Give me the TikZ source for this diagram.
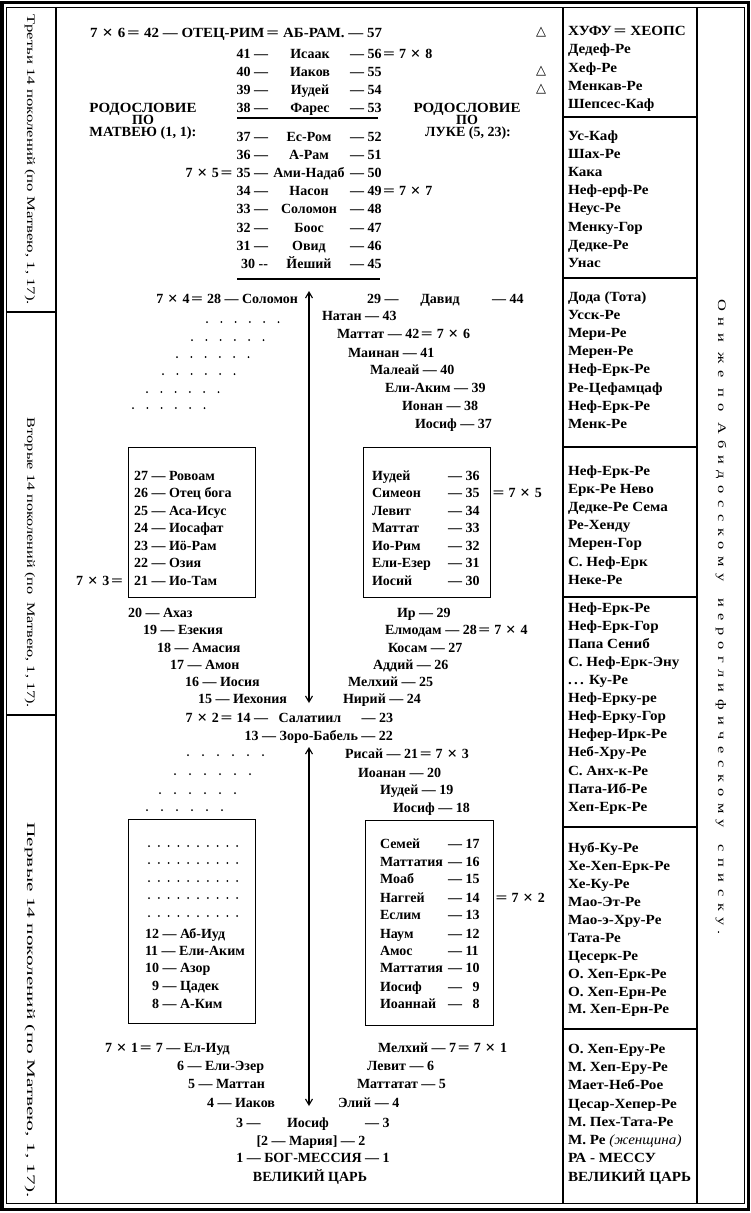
\documentclass[tikz,border=0pt]{standalone}
\usepackage{fontspec}
\setmainfont{Liberation Serif}
\newfontfamily\symf{DejaVu Sans}
\newfontfamily\rcolf[FakeStretch=1.08]{Liberation Serif}
\usepackage{graphicx}
\usetikzlibrary{arrows.meta}
\newcommand\TM{\kern0.33em\raisebox{-0.08em}{\scalebox{1.25}{×}}\kern0.33em}
\newcommand\EQ{\kern0.12em\scalebox{1.5}[1]{=}\kern0.28em}
\newcommand\mfont{\fontsize{14}{16}\selectfont\bfseries}
\newcommand\rfont{\rcolf\fontsize{14}{16}\selectfont\bfseries}
\newcommand\vfont{\fontsize{11.5}{14}\selectfont}
\newcommand\hfit[2]{\resizebox{#1}{\height}{#2}}
\tikzset{
  t/.style={inner sep=0pt, outer sep=0pt, font=\mfont, anchor=base west},
  te/.style={t, anchor=base east},
  tc/.style={t, anchor=base},
  rt/.style={inner sep=0pt, outer sep=0pt, font=\rfont, anchor=base west},
  vt/.style={inner sep=0pt, font=\vfont, rotate=-90},
  tri/.style={inner sep=0pt, font=\symf\fontsize{13}{13}\selectfont},
  boxst/.style={draw, line width=1.4pt, inner sep=0pt, anchor=north west},
  frame/.style={line width=1.2pt},
  divr/.style={line width=1.8pt},
  darrow/.style={line width=1.1pt, {Straight Barb[length=6pt,width=7pt]}-{Straight Barb[length=6pt,width=7pt]}},
  dot/.style={fill=black}
}
\begin{document}
\begin{tikzpicture}[x=1pt,y=-1pt]
\fill[white] (0,0) rectangle (751,1213);
\useasboundingbox (0,0) rectangle (751,1213);
% ---- frame ----
\draw[line width=3.5pt] (2.2,2.5) rectangle (748.5,1209.5);
\draw[line width=1pt] (6.5,7.5) rectangle (744,1203.5);
\draw[frame] (56,7.5) -- (56,1203.5);
\draw[frame] (563,7.5) -- (563,1203.5);
\draw[frame] (697,7.5) -- (697,1203.5);
\draw[frame] (6.5,312) -- (56,312);
\draw[frame] (6.5,715) -- (56,715);
\foreach \yy in {117,278,447,597,827,1029} \draw[divr] (563,\yy) -- (697,\yy);
% ---- left column texts ----
\node[vt] (lc3) at (30,160) {\hfit{290pt}{Третьи 14 поколений (по Матвею, 1, 17).}};
\node[vt] (lc2) at (30,563) {\hfit{290pt}{Вторые 14 поколений (по~~Матвею, 1, 17).}};
\node[vt] (lc1) at (30,1010) {\hfit{375pt}{Первые 14 поколений (по Матвею, 1, 17).}};
% ---- far right text ----
\node[vt] (abid) at (721,617) {\hfit{635pt}{\addfontfeature{LetterSpace=40}Они же по Абидосскому\quad иероглифическому\quad списку.}};
% ---- top section ----
\node[t] (n57) at (90,37) {\hfit{292pt}{7\TM 6\EQ 42 — ОТЕЦ-РИМ\EQ АБ-РАМ. — 57}};
\node[tri] (tr1) at (541,32) {△};
\node[tri] (tr2) at (541,71) {△};
\node[tri] (tr3) at (541,89) {△};
\node[te] (a41) at (268,58) {41 —};  \node[tc] (b41) at (310,58) {Исаак};  \node[t] (c41) at (350,58) {— 56\EQ 7\TM 8};
\node[te] (a40) at (268,76) {40 —};  \node[tc] (b40) at (310,76) {Иаков};  \node[t] (c40) at (350,76) {— 55};
\node[te] (a39) at (268,94) {39 —};  \node[tc] (b39) at (310,94) {Иудей};  \node[t] (c39) at (350,94) {— 54};
\node[te] (a38) at (268,112) {38 —}; \node[tc] (b38) at (310,112) {Фарес}; \node[t] (c38) at (350,112) {— 53};
\node[tc] (rodM1) at (143,112) {\hfit{107pt}{РОДОСЛОВИЕ}};
\node[tc] (rodM2) at (143,124) {ПО};
\node[tc] (rodM3) at (143,136) {\hfit{107pt}{МАТВЕЮ (1, 1):}};
\node[tc] (rodL1) at (467,112) {\hfit{107pt}{РОДОСЛОВИЕ}};
\node[tc] (rodL2) at (467,124) {ПО};
\node[tc] (rodL3) at (468,136) {ЛУКЕ (5, 23):};
\coordinate (ru1a) at (237,118); \coordinate (ru1b) at (378,118);
\draw[line width=1.2pt] (ru1a) -- (ru1b);
\node[te] (a37) at (268,141) {37 —}; \node[tc] (b37) at (309,141) {Ес-Ром}; \node[t] (c37) at (350,141) {— 52};
\node[te] (a36) at (268,159) {36 —}; \node[tc] (b36) at (309,159) {А-Рам}; \node[t] (c36) at (350,159) {— 51};
\node[te] (a35) at (268,177) {7\TM 5\EQ 35 —}; \node[tc] (b35) at (309,177) {Ами-Надаб}; \node[t] (c35) at (350,177) {— 50};
\node[te] (a34) at (268,195) {34 —}; \node[tc] (b34) at (309,195) {Насон}; \node[t] (c34) at (350,195) {— 49\EQ 7\TM 7};
\node[te] (a33) at (268,213) {33 —}; \node[tc] (b33) at (309,213) {Соломон}; \node[t] (c33) at (350,213) {— 48};
\node[te] (a32) at (268,232) {32 —}; \node[tc] (b32) at (309,232) {Боос}; \node[t] (c32) at (350,232) {— 47};
\node[te] (a31) at (268,250) {31 —}; \node[tc] (b31) at (309,250) {Овид}; \node[t] (c31) at (350,250) {— 46};
\node[te] (a30) at (268,268) {30 -{}-}; \node[tc] (b30) at (309,268) {Йеший}; \node[t] (c30) at (350,268) {— 45};
\coordinate (ru2a) at (237,279); \coordinate (ru2b) at (380,279);
\draw[line width=2pt] (ru2a) -- (ru2b);
% ---- second section ----
\coordinate (ar1t) at (309,291); \coordinate (ar1b) at (309,703);
\draw[darrow] (ar1t) -- (ar1b);
\node[te] (s28) at (298,303) {7\TM 4\EQ 28 — Соломон};
\node[t] (d29) at (367,303) {29 —}; \node[tc] (d29n) at (440,303) {Давид}; \node[t] (d44) at (492,303) {— 44};
\node[t] (l43) at (322,320) {Натан — 43};
\node[t] (l42) at (337,338) {Маттат — 42\EQ 7\TM 6};
\node[t] (l41) at (348,357) {Маинан — 41};
\node[t] (l40) at (370,374) {Малеай — 40};
\node[t] (l39) at (385,392) {Ели-Аким — 39};
\node[t] (l38) at (402,410) {Ионан — 38};
\node[t] (l37) at (415,428) {Иосиф — 37};
\foreach \yy/\xx in {322/207,340/192,357/177,374/163,392/147,408/133}
  \foreach \k in {0,...,5} \fill[dot] (\xx+\k*14.3,\yy) circle (1pt);
% boxes middle
\node[boxst, minimum width=127pt, minimum height=150pt] (boxA) at (128,447) {};
\node[boxst, minimum width=127pt, minimum height=150pt] (boxB) at (363,447) {};
\node[t] (m27) at (134,480) {27 — Ровоам};
\node[t] (m26) at (134,497) {26 — Отец бога};
\node[t] (m25) at (134,515) {25 — Аса-Исус};
\node[t] (m24) at (134,532) {24 — Иосафат};
\node[t] (m23) at (134,550) {23 — Иö-Рам};
\node[t] (m22) at (134,567) {22 — Озия};
\node[t] (m21) at (134,585) {21 — Ио-Там};
\node[te] (m21x) at (127,585) {7\TM 3\EQ};
\node[t] (l36n) at (372,480) {Иудей};    \node[t] (l36) at (448,480) {— 36};
\node[t] (l35n) at (372,497) {Симеон};   \node[t] (l35) at (448,497) {— 35};
\node[t] (l34n) at (372,515) {Левит};    \node[t] (l34) at (448,515) {— 34};
\node[t] (l33n) at (372,532) {Маттат};   \node[t] (l33) at (448,532) {— 33};
\node[t] (l32n) at (372,550) {Ио-Рим};   \node[t] (l32) at (448,550) {— 32};
\node[t] (l31n) at (372,567) {Ели-Езер}; \node[t] (l31) at (448,567) {— 31};
\node[t] (l30n) at (372,585) {Иосий};    \node[t] (l30) at (448,585) {— 30};
\node[t] (l35x) at (491,497) {\EQ 7\TM 5};
% staircases below boxes
\node[t] (m20) at (128,617) {20 — Ахаз};
\node[t] (m19) at (143,634) {19 — Езекия};
\node[t] (m18) at (157,652) {18 — Амасия};
\node[t] (m17) at (170,669) {17 — Амон};
\node[t] (m16) at (185,686) {16 — Иосия};
\node[t] (m15) at (198,703) {15 — Иехония};
\node[t] (l29) at (397,617) {Ир — 29};
\node[t] (l28) at (385,634) {Елмодам — 28\EQ 7\TM 4};
\node[t] (l27) at (388,652) {Косам — 27};
\node[t] (l26) at (373,669) {Аддий — 26};
\node[t] (l25) at (348,686) {Мелхий — 25};
\node[t] (l24) at (343,703) {Нирий — 24};
\node[te] (m14) at (268,722) {7\TM 2\EQ 14 —}; \node[tc] (m14n) at (310,722) {Салатиил}; \node[te] (l23) at (393,722) {— 23};
\node[te] (m13) at (393,740) {13 — Зоро-Бабель — 22};
% ---- third section ----
\coordinate (ar2t) at (309,747); \coordinate (ar2b) at (309,1106);
\draw[darrow] (ar2t) -- (ar2b);
\node[t] (l21) at (345,758) {Рисай — 21\EQ 7\TM 3};
\node[t] (l20) at (358,777) {Иоанан — 20};
\node[t] (l19) at (380,794) {Иудей — 19};
\node[t] (l18) at (393,812) {Иосиф — 18};
\foreach \yy/\xx in {755/188,774/175,793/160,810/147}
  \foreach \k in {0,...,5} \fill[dot] (\xx+\k*15,\yy) circle (1pt);
\node[boxst, minimum width=127pt, minimum height=204pt] (boxC) at (128,819) {};
\node[boxst, minimum width=128pt, minimum height=205pt] (boxD) at (365,820) {};
\foreach \yy in {846,863,881,898,916}
  \foreach \k in {0,...,9} \fill[dot] (149+\k*9.8,\yy) circle (1pt);
\node[t] (m12) at (145,938) {12 — Аб-Иуд};
\node[t] (m11) at (145,955) {11 — Ели-Аким};
\node[t] (m10) at (145,972) {10 — Азор};
\node[t] (m9) at (152,990) {9 — Цадек};
\node[t] (m8) at (152,1008) {8 — А-Ким};
\node[t] (l17n) at (380,848) {Семей};     \node[t] (l17) at (448,848) {— 17};
\node[t] (l16n) at (380,866) {Маттатия};  \node[t] (l16) at (448,866) {— 16};
\node[t] (l15n) at (380,883) {Моаб};      \node[t] (l15) at (448,883) {— 15};
\node[t] (l14n) at (380,902) {Наггей};    \node[t] (l14) at (448,902) {— 14};
\node[t] (l13n) at (380,919) {Еслим};     \node[t] (l13) at (448,919) {— 13};
\node[t] (l12n) at (380,938) {Наум};      \node[t] (l12) at (448,938) {— 12};
\node[t] (l11n) at (380,955) {Амос};      \node[t] (l11) at (448,955) {— 11};
\node[t] (l10n) at (380,972) {Маттатия};  \node[t] (l10) at (448,972) {— 10};
\node[t] (l9n) at (380,991) {Иосиф};      \node[t] (l9) at (448,991) {— \hphantom{0}9};
\node[t] (l8n) at (380,1008) {Иоаннай};   \node[t] (l8) at (448,1008) {— \hphantom{0}8};
\node[t] (l14x) at (494,902) {\EQ 7\TM 2};
\node[t] (m7) at (105,1052) {7\TM 1\EQ 7 — Ел-Иуд};
\node[t] (m6) at (177,1070) {6 — Ели-Эзер};
\node[t] (m5) at (188,1088) {5 — Маттан};
\node[t] (m4) at (207,1107) {4 — Иаков};
\node[t] (l7) at (378,1052) {Мелхий — 7\EQ 7\TM 1};
\node[t] (l6) at (367,1070) {Левит — 6};
\node[t] (l5) at (357,1088) {Маттатат — 5};
\node[t] (l4) at (338,1107) {Элий — 4};
\node[t] (m3) at (236,1127) {3 —}; \node[tc] (m3n) at (308,1127) {Иосиф}; \node[t] (l3) at (365,1127) {— 3};
\node[tc] (m2) at (311,1145) {[2 — Мария] — 2};
\node[tc] (m1) at (313,1162) {1 — БОГ-МЕССИЯ — 1};
\node[tc] (m0) at (310,1181) {ВЕЛИКИЙ ЦАРЬ};
% ---- right column ----
\foreach \yy/\txt [count=\i] in {
 30/{ХУФУ\EQ ХЕОПС}, 48/Дедеф-Ре, 67/Хеф-Ре, 85/Менкав-Ре, 103/Шепсес-Каф,
 135/Ус-Каф, 153/Шах-Ре, 171/Кака, 189/Неф-ерф-Ре, 207/Неус-Ре, 226/Менку-Гор, 244/Дедке-Ре, 262/Унас,
 296/{Дода (Тота)}, 314/Усск-Ре, 332/Мери-Ре, 350/Мерен-Ре, 368/Неф-Ерк-Ре, 387/Ре-Цефамцаф, 405/Неф-Ерк-Ре, 423/Менк-Ре,
 470/Неф-Ерк-Ре, 488/{Ерк-Ре Нево}, 506/{Дедке-Ре Сема}, 524/Ре-Хенду, 542/Мерен-Гор, 561/{С. Неф-Ерк}, 579/Неке-Ре,
 607/Неф-Ерк-Ре, 625/Неф-Ерк-Гор, 643/{Папа Сениб}, 661/{С. Неф-Ерк-Эну}, 679/{.\,.\,. Ку-Ре}, 697/Неф-Ерку-ре, 715/Неф-Ерку-Гор, 733/Нефер-Ирк-Ре, 751/Неб-Хру-Ре, 770/{С. Анх-к-Ре}, 788/Пата-Иб-Ре, 806/Хеп-Ерк-Ре,
 847/Нуб-Ку-Ре, 865/Хе-Хеп-Ерк-Ре, 883/Хе-Ку-Ре, 901/Мао-Эт-Ре, 919/Мао-э-Хру-Ре, 937/Тата-Ре, 955/Цесерк-Ре, 973/{О. Хеп-Ерк-Ре}, 991/{О. Хеп-Ерн-Ре}, 1008/{М. Хеп-Ерн-Ре},
 1048/{О. Хеп-Еру-Ре}, 1066/{М. Хеп-Еру-Ре}, 1084/Мает-Неб-Рое, 1103/Цесар-Хепер-Ре, 1121/{М. Пех-Тата-Ре}, 1139/{М. Ре {\mdseries\itshape(женщина)}}, 1157/{РА - МЕССУ}, 1176/{ВЕЛИКИЙ ЦАРЬ}}
  \node[rt] (rc\i) at (568,\yy+5) {\txt};
\end{tikzpicture}
\end{document}
